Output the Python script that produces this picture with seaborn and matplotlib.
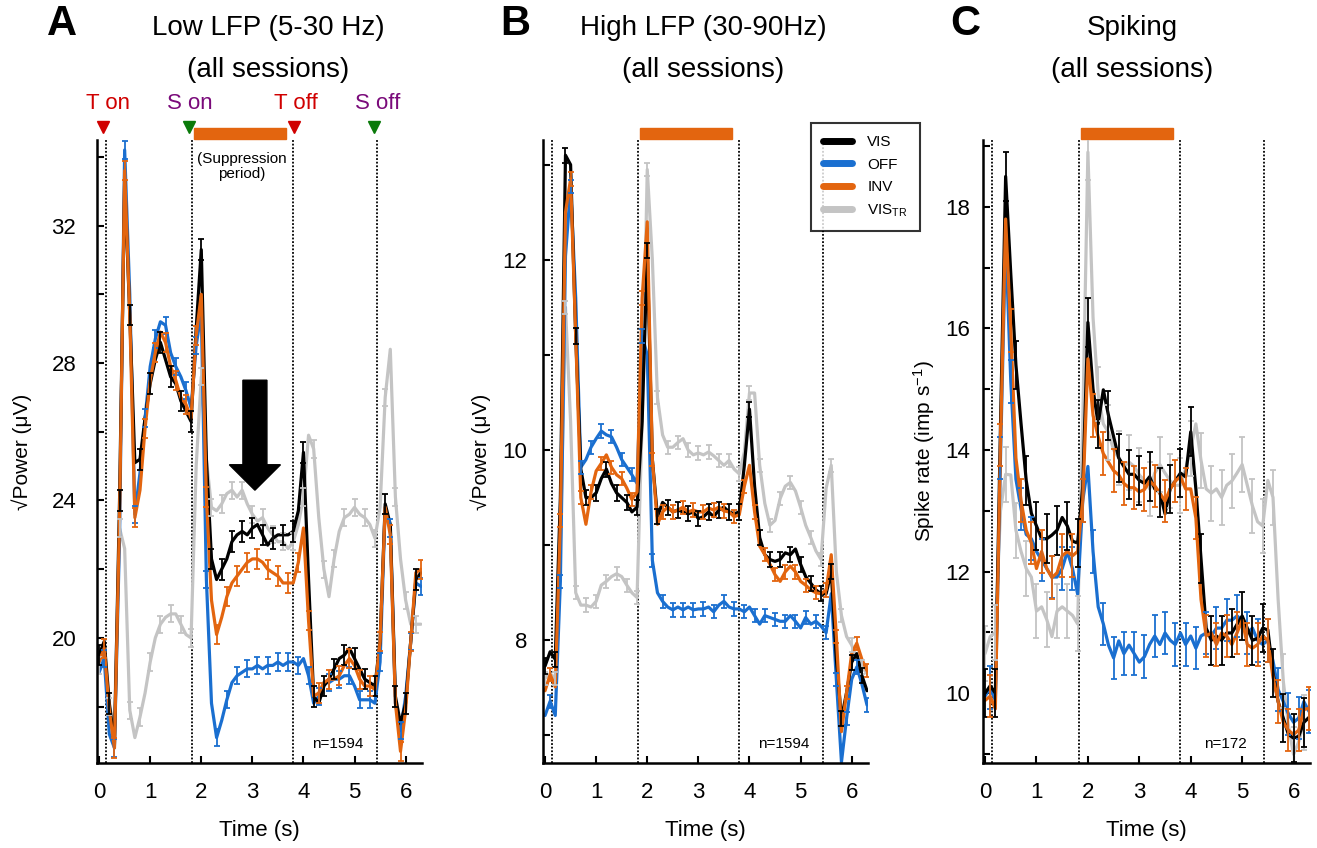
import numpy as np
import pandas as pd
import seaborn as sns
import matplotlib.pyplot as plt
from matplotlib.lines import Line2D
from matplotlib.patches import Rectangle, FancyArrow

sns.set_style('white')
plt.rcParams['font.family'] = ['Liberation Sans', 'DejaVu Sans']
plt.rcParams['mathtext.fontset'] = 'custom'
plt.rcParams['mathtext.rm'] = 'Liberation Sans'
plt.rcParams['mathtext.it'] = 'Liberation Sans:italic'
plt.rcParams['text.color'] = 'black'
plt.rcParams['axes.labelcolor'] = 'black'

# time axis (s), one sample every 100 ms
time = np.round(np.arange(64) * 0.1, 1)

conds = ['VIS', 'OFF', 'INV', 'VIS_TR']
colors = {'VIS': '#000000', 'OFF': '#1a6fd0', 'INV': '#e3650f', 'VIS_TR': '#c4c4c4'}
draw_order = ['VIS_TR', 'OFF', 'VIS', 'INV']

# A: low LFP (5-30 Hz)
a_vis = [19.5, 19.9, 18.1, 16.9, 24.0, 33.3, 29.4, 25.1, 25.2, 26.4,
         27.4, 28.1, 28.6, 28.1, 27.6, 27.4, 26.9, 26.6, 26.3, 29.0,
         31.3, 25.2, 22.3, 21.7, 22.0, 22.3, 22.8, 23.0, 23.1, 23.0,
         23.2, 23.3, 23.0, 22.7, 22.9, 23.0, 23.0, 23.0, 23.1, 23.7,
         25.4, 21.7, 18.3, 18.1, 18.6, 18.8, 19.1, 19.4, 19.5, 19.7,
         19.4, 19.1, 18.8, 18.7, 18.6, 19.9, 23.9, 23.3, 18.3, 17.5,
         18.1, 19.9, 21.7, 21.9]
a_off = [19.0, 19.4, 17.2, 16.8, 22.9, 34.2, 30.0, 23.6, 24.8, 26.4,
         27.9, 28.7, 29.2, 29.1, 28.3, 27.9, 27.6, 27.2, 26.7, 28.5,
         29.5, 21.7, 18.1, 17.1, 17.6, 18.2, 18.7, 18.9, 19.0, 19.1,
         19.1, 19.2, 19.1, 19.2, 19.2, 19.3, 19.2, 19.3, 19.3, 19.2,
         19.4, 18.9, 18.1, 18.3, 18.7, 18.7, 18.8, 18.8, 18.9, 18.9,
         18.6, 18.2, 18.2, 18.2, 18.1, 19.3, 23.8, 23.2, 18.1, 17.3,
         18.3, 19.9, 21.6, 21.5]
a_inv = [19.3, 19.7, 17.9, 16.8, 23.5, 33.6, 29.4, 23.5, 24.3, 26.1,
         27.5, 28.3, 28.9, 28.6, 27.9, 27.5, 27.0, 26.8, 26.4, 28.8,
         30.0, 24.1, 21.1, 20.1, 20.6, 21.2, 21.6, 21.8, 22.0, 22.2,
         22.3, 22.3, 22.2, 22.0, 21.9, 21.8, 21.6, 21.6, 21.6, 22.2,
         23.2, 20.5, 18.3, 18.4, 18.7, 18.8, 18.8, 18.9, 19.2, 19.4,
         19.2, 18.8, 18.6, 18.6, 18.5, 19.9, 23.8, 23.0, 18.1, 16.7,
         17.9, 19.9, 21.9, 22.0]
a_tr = [19.2, 19.5, 18.0, 17.5, 23.2, 22.6, 17.9, 17.1, 17.7, 18.4,
        19.3, 20.0, 20.4, 20.6, 20.7, 20.7, 20.4, 20.1, 20.0, 25.0,
        27.6, 25.2, 23.8, 23.7, 23.9, 24.2, 24.3, 24.1, 24.3, 23.9,
        23.6, 23.4, 23.5, 23.2, 23.0, 22.8, 22.8, 22.6, 22.8, 23.3,
        24.1, 25.9, 25.5, 23.5, 22.0, 21.2, 22.3, 23.1, 23.5, 23.6,
        23.8, 23.6, 23.5, 23.3, 22.9, 23.8, 27.0, 28.4, 24.1, 22.3,
        21.1, 20.4, 20.4, 20.4]

# B: high LFP (30-90 Hz)
b_vis = [7.73, 7.88, 7.80, 9.50, 13.10, 13.00, 11.20, 9.80, 9.50, 9.50,
         9.55, 9.70, 9.80, 9.65, 9.55, 9.50, 9.45, 9.35, 9.40, 10.30,
         12.10, 9.90, 9.30, 9.45, 9.40, 9.35, 9.37, 9.35, 9.33, 9.35,
         9.28, 9.30, 9.35, 9.30, 9.37, 9.40, 9.35, 9.33, 9.35, 9.84,
         10.43, 9.62, 9.08, 8.90, 8.85, 8.83, 8.85, 8.92, 8.90, 8.96,
         8.80, 8.67, 8.60, 8.53, 8.49, 8.49, 8.72, 7.80, 7.18, 7.45,
         7.77, 7.86, 7.63, 7.47]
b_off = [7.21, 7.36, 7.21, 8.62, 12.04, 12.77, 11.60, 9.82, 9.90, 10.03,
         10.12, 10.20, 10.16, 10.14, 10.03, 9.90, 9.82, 9.74, 9.65, 11.20,
         11.00, 8.84, 8.50, 8.41, 8.35, 8.32, 8.35, 8.32, 8.35, 8.32,
         8.33, 8.33, 8.35, 8.30, 8.37, 8.41, 8.35, 8.33, 8.33, 8.30,
         8.35, 8.26, 8.17, 8.26, 8.24, 8.22, 8.20, 8.20, 8.26, 8.20,
         8.13, 8.24, 8.17, 8.20, 8.15, 8.08, 8.49, 7.59, 6.72, 7.18,
         7.59, 7.72, 7.54, 7.32]
b_inv = [7.47, 7.64, 7.51, 9.26, 12.50, 12.85, 11.20, 9.50, 9.22, 9.56,
         9.78, 9.86, 9.95, 9.82, 9.74, 9.70, 9.60, 9.48, 9.56, 11.60,
         12.40, 9.90, 9.22, 9.35, 9.40, 9.35, 9.37, 9.40, 9.35, 9.37,
         9.35, 9.35, 9.39, 9.37, 9.40, 9.36, 9.35, 9.30, 9.32, 9.62,
         9.84, 9.35, 8.99, 8.90, 8.80, 8.69, 8.62, 8.72, 8.78, 8.72,
         8.62, 8.58, 8.53, 8.50, 8.49, 8.53, 8.90, 8.04, 7.04, 7.45,
         7.86, 7.97, 7.80, 7.68]
b_tr = [7.60, 7.65, 7.60, 9.00, 11.50, 10.30, 8.50, 8.37, 8.37, 8.35,
        8.41, 8.58, 8.62, 8.67, 8.70, 8.67, 8.58, 8.50, 8.45, 10.30,
        12.95, 12.00, 10.55, 10.16, 10.03, 10.03, 10.08, 10.12, 10.00, 9.95,
        9.97, 9.95, 9.98, 9.94, 9.89, 9.84, 9.89, 9.80, 9.75, 9.98,
        10.60, 10.60, 9.84, 9.44, 9.21, 9.26, 9.49, 9.62, 9.66, 9.57,
        9.40, 9.21, 9.08, 8.94, 8.85, 9.60, 9.84, 8.72, 8.26, 8.04,
        7.95, 7.81, 7.72, 7.65]

# C: spiking
c_vis = [10.00, 10.12, 10.00, 14.40, 18.50, 16.90, 15.40, 14.43, 13.50, 12.96,
         12.75, 12.54, 12.54, 12.60, 12.68, 12.89, 12.75, 12.50, 12.47, 13.40,
         16.10, 15.00, 14.43, 14.99, 14.57, 14.22, 13.87, 13.73, 13.60, 13.60,
         13.50, 13.45, 13.56, 13.36, 13.30, 12.95, 13.36, 13.49, 13.62, 13.56,
         14.30, 13.36, 12.21, 11.07, 10.87, 10.94, 10.87, 10.99, 10.99, 11.13,
         11.27, 11.07, 10.87, 10.90, 11.07, 11.04, 10.33, 9.86, 9.59, 9.32,
         9.26, 9.29, 9.52, 9.60]
c_off = [9.95, 10.09, 9.88, 13.87, 17.50, 15.13, 13.52, 13.03, 12.61, 12.54,
         12.33, 12.19, 12.05, 11.91, 11.91, 12.05, 12.33, 12.05, 11.63, 13.17,
         13.73, 12.33, 11.42, 11.14, 10.79, 10.58, 10.86, 10.65, 10.79, 10.65,
         10.51, 10.60, 10.80, 10.94, 10.80, 10.99, 10.87, 10.80, 10.99, 10.80,
         10.94, 10.74, 10.94, 10.99, 10.94, 11.07, 11.07, 11.20, 11.20, 11.27,
         11.20, 10.99, 11.07, 10.87, 10.80, 10.87, 10.53, 10.06, 9.86, 9.66,
         9.52, 9.59, 9.86, 9.70]
c_inv = [9.88, 9.95, 9.74, 14.08, 17.80, 15.97, 13.87, 13.17, 12.68, 12.47,
         12.05, 12.33, 12.05, 11.90, 11.98, 12.26, 12.33, 12.26, 12.33, 13.17,
         15.50, 14.57, 14.22, 13.94, 13.80, 13.66, 13.59, 13.45, 13.38, 13.38,
         13.31, 13.35, 13.49, 13.41, 13.29, 13.16, 13.36, 13.49, 13.56, 13.36,
         13.36, 12.88, 11.54, 10.94, 10.99, 10.80, 10.99, 10.94, 10.80, 10.99,
         11.20, 10.80, 10.74, 10.80, 10.94, 10.87, 10.26, 9.86, 9.52, 9.39,
         9.32, 9.39, 9.73, 9.75]
c_tr = [10.65, 10.93, 11.00, 13.00, 13.60, 13.59, 12.68, 12.33, 12.05, 11.91,
        11.35, 11.42, 11.21, 10.93, 11.35, 11.42, 11.35, 11.28, 11.14, 14.43,
        18.90, 16.18, 14.92, 14.43, 14.29, 14.00, 13.87, 13.73, 13.80, 13.73,
        13.59, 13.50, 13.36, 13.62, 13.76, 13.62, 13.49, 13.42, 13.42, 13.69,
        14.03, 14.43, 13.83, 13.36, 13.29, 13.36, 13.22, 13.42, 13.49, 13.62,
        13.76, 13.42, 13.08, 12.82, 12.75, 13.50, 13.22, 11.54, 10.20, 9.46,
        8.99, 9.20, 9.52, 9.60]

# s.e.m. per condition
a_err = {'VIS': 0.30, 'OFF': 0.25, 'INV': 0.28, 'VIS_TR': 0.25}
b_err = {'VIS': 0.08, 'OFF': 0.07, 'INV': 0.07, 'VIS_TR': 0.07}
c_err = {'VIS': 0.40, 'OFF': 0.35, 'INV': 0.35, 'VIS_TR': 0.45}

events = [0.13, 1.82, 3.8, 5.43]
supp_start, supp_end = 1.86, 3.66

fig = plt.figure(figsize=(13.17, 8.48), dpi=100)
axA = fig.add_axes([0.0737, 0.1002, 0.2467, 0.7347])
axB = fig.add_axes([0.4123, 0.1002, 0.2468, 0.7347])
axC = fig.add_axes([0.7464, 0.1002, 0.2483, 0.7347])


def panel(ax, series, errs, ylim, major, minor, ylabel, ntext, ypad, lpad):
    df = pd.DataFrame({'time': np.tile(time, 4),
                       'value': np.concatenate([series[c] for c in conds]),
                       'cond': np.repeat(conds, len(time))})
    sns.lineplot(data=df, x='time', y='value', hue='cond', hue_order=draw_order,
                 palette=colors, lw=2.3, errorbar=None, legend=False, ax=ax)
    for k, c in enumerate(draw_order):
        idx = np.arange(k % 2, len(time), 2)
        ax.errorbar(time[idx], np.asarray(series[c])[idx], yerr=errs[c], fmt='none',
                    ecolor=colors[c], elinewidth=1.3, capsize=2.5, capthick=1.3)
    for t in events:
        ax.axvline(t, color='black', ls=(0, (1, 1)), lw=1.3, zorder=0)
    ax.set_xlim(-0.04, 6.32)
    ax.set_ylim(*ylim)
    ax.set_xticks(range(7))
    ax.set_yticks(major)
    ax.set_yticks(minor, minor=True)
    ax.tick_params(axis='both', which='both', direction='in', length=5, width=1.5,
                   labelsize=16, colors='black', bottom=True, left=True)
    ax.tick_params(axis='x', pad=14)
    ax.tick_params(axis='y', pad=ypad)
    ax.set_xlabel('Time (s)', fontsize=16, labelpad=12)
    ax.set_ylabel(ylabel, fontsize=15, labelpad=lpad)
    sns.despine(ax=ax)
    for s in ['left', 'bottom']:
        ax.spines[s].set_linewidth(1.8)
        ax.spines[s].set_color('black')
    ax.text(4.67, 0.03, ntext, transform=ax.get_xaxis_transform(), ha='center',
            va='center', fontsize=11)
    ax.add_patch(Rectangle((supp_start, 1.002), supp_end - supp_start, 0.017,
                           transform=ax.get_xaxis_transform(), color='#e3650f',
                           clip_on=False))


panel(axA, {'VIS': a_vis, 'OFF': a_off, 'INV': a_inv, 'VIS_TR': a_tr}, a_err,
      (16.36, 34.49), [20, 24, 28, 32], [18, 22, 26, 30, 34],
      '\u221aPower (\u03bcV)', 'n=1594', 15, 14)
panel(axB, {'VIS': b_vis, 'OFF': b_off, 'INV': b_inv, 'VIS_TR': b_tr}, b_err,
      (6.71, 13.26), [8, 10, 12], [7, 9, 11, 13],
      '\u221aPower (\u03bcV)', 'n=1594', 11.5, 8)
panel(axC, {'VIS': c_vis, 'OFF': c_off, 'INV': c_inv, 'VIS_TR': c_tr}, c_err,
      (8.85, 19.1), [10, 12, 14, 16, 18], [9, 11, 13, 15, 17, 19],
      'Spike rate (imp s$^{-1}$)', 'n=172', 9.5, 6)

# event markers over panel A
trans = axA.get_xaxis_transform()
marks = [('T on', 0.08, 0.18, '#d00000', '#d00000'),
         ('S on', 1.75, 1.77, '#7a0a7a', '#0a7a0a'),
         ('T off', 3.81, 3.86, '#d00000', '#d00000'),
         ('S off', 5.38, 5.45, '#7a0a7a', '#0a7a0a')]
for lab, tx, tt, tcol, mcol in marks:
    axA.plot(tx, 1.021, marker='v', ms=8, color=mcol, transform=trans, clip_on=False)
    axA.text(tt, 1.059, lab, color=tcol, fontsize=16, ha='center', va='center',
             transform=trans)
axA.text(2.79, 0.958, '(Suppression\nperiod)', transform=trans, ha='center',
         va='center', fontsize=11, linespacing=1.1)
axA.add_patch(FancyArrow(3.05, 27.5, 0, -3.2, width=0.47, head_width=1.0,
                         head_length=0.74, length_includes_head=True, color='black',
                         zorder=5))

# panel letters and titles
for letter, lx, title, tx in [('A', 0.047, 'Low LFP (5-30 Hz)', 0.2035),
                              ('B', 0.391, 'High LFP (30-90Hz)', 0.534),
                              ('C', 0.733, 'Spiking', 0.860)]:
    fig.text(lx, 0.972, letter, fontsize=30, fontweight='bold', ha='center',
             va='center', color='black')
    fig.text(tx, 0.967, title, fontsize=20, ha='center', va='center')
    fig.text(tx, 0.917, '(all sessions)', fontsize=20, ha='center', va='center')

handles = [Line2D([], [], color=colors[c], lw=5) for c in conds]
labels = ['VIS', 'OFF', 'INV', 'VIS$_{\\mathrm{TR}}$']
leg = fig.legend(handles, labels, loc='upper left', bbox_to_anchor=(0.6097, 0.864),
                 fontsize=11, frameon=True, fancybox=False, edgecolor='black',
                 handlelength=1.9, labelspacing=0.55, borderpad=0.8, handletextpad=1.0)
leg.get_frame().set_linewidth(1.5)
for txt in leg.get_texts():
    txt.set_color('black')

fig.savefig('out.png', dpi=100)
